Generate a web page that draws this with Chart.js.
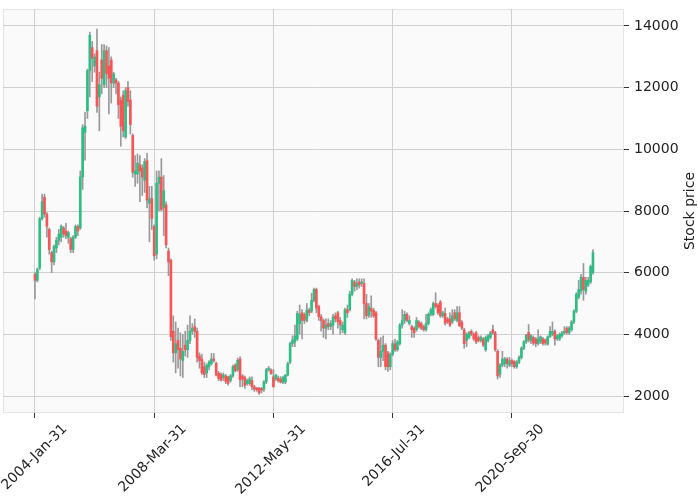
<!DOCTYPE html>
<html><head><meta charset="utf-8">
<script src="https://cdn.jsdelivr.net/npm/chart.js@4"></script>
<style>html,body{margin:0;padding:0;background:#fff}</style>
</head><body>
<canvas id="c" width="698" height="497"></canvas>
<script>
// Monthly OHLC, Jan 2004 .. Jul 2023 (index 0 = 2004-Jan)
const openP = [5950,5750,6150,7750,8450,7900,7400,6650,6350,6800,7050,7150,7450,7350,7150,7100,6750,7150,7500,7450,
9100,10550,11250,12550,13300,12700,13200,11700,12900,12100,13200,12700,12900,12150,12250,12150,11600,11750,10400,12000,
11600,10450,9200,9200,9500,9400,9000,9630,8250,8400,7500,6600,8900,9100,8100,8200,6700,6400,4100,3400,
3800,3550,3150,3650,3500,3800,4100,4250,4100,3300,3200,2950,2750,2950,3050,3200,3060,2735,2700,2600,
2650,2620,2500,2650,3000,2850,3200,2650,2600,2400,2400,2500,2300,2260,2250,2250,2220,2460,2850,2850,
2620,2550,2580,2550,2450,2450,2680,3100,3700,3750,3850,4350,4700,4650,4450,4780,4750,5100,5460,4900,
4570,4450,4200,4350,4250,4300,4600,4700,4450,4150,4050,4800,4800,5300,5700,5550,5700,5650,5650,5000,
4620,4850,4780,4700,3800,3250,3450,3650,3400,2950,3350,3700,3500,3700,4300,4450,4650,4350,4250,4200,
4150,4400,4350,4250,4150,4350,4650,4650,5000,4950,5050,4600,4680,4500,4500,4400,4700,4450,4700,4400,
4140,3800,3900,4100,4000,4050,3900,3800,3850,3500,3800,3900,4150,4050,3450,2700,3000,3050,3200,3000,
3150,3120,2950,3100,3250,3550,3760,4060,3800,3900,3850,3700,3750,3850,3820,3680,3920,4000,4100,3850,
3850,3950,4050,4200,4050,4150,4400,4750,5200,5400,5850,5400,5600,5700,6000];
const highP = [6000,6150,7800,8550,8550,7950,7450,6700,6900,7150,7400,7550,7500,7600,7350,7150,7200,7550,7550,9300,
10800,11200,12600,13800,13500,13100,13900,12500,13400,13400,13350,13300,13000,12500,12300,12200,11700,11900,12000,12200,
11900,10500,9800,9850,9800,9500,9700,9870,8800,8800,7550,9300,9300,9700,9150,8300,6800,6450,4600,4400,
4200,4050,4000,4100,4300,4600,4350,4500,4200,3400,3350,3100,3050,3150,3380,3380,3100,2800,2750,2750,
2700,2650,2700,3000,3050,3230,3280,2700,2650,2550,2620,2620,2350,2280,2280,2280,2500,2900,2960,2880,
2860,2700,2650,2630,2650,2700,3100,3750,3950,4300,4750,4950,4800,4700,5000,4850,5330,5500,5500,4950,
4650,4500,4500,4500,4450,4650,4700,4750,4550,4400,4850,4950,5400,5800,5750,5800,5800,5800,5800,5300,
5000,5250,4850,4750,3850,3900,3950,3700,3450,3400,3800,3850,3800,4350,4800,4750,4700,4600,4300,4250,
4550,4450,4400,4300,4650,4700,4850,5050,5350,5000,5100,4750,4850,4550,4700,4800,4800,4900,4900,4450,
4200,4050,4100,4150,4050,4100,3950,3950,3900,3950,4000,4100,4300,4100,3500,3050,3450,3250,3250,3250,
3200,3150,3150,3300,3600,3800,4000,4320,4000,3950,3900,4150,3950,3900,3850,3950,4250,4400,4150,4000,
4050,4100,4250,4250,4250,4450,4800,5350,5750,5950,6300,5850,5850,6250,6750];
const lowP = [5150,5700,6100,7700,7800,7150,6600,6000,6250,6650,6900,7000,7150,7100,6950,6650,6650,7100,7200,7400,
8700,9650,11000,11700,12200,12500,11200,10600,11800,12000,12000,11150,11500,12000,11800,11000,10100,10400,10350,11400,
10500,9100,8800,8900,8300,8500,8600,8100,7000,7400,6400,6450,8000,8000,7200,6800,5900,3800,3100,2750,
2900,2650,2600,3300,3250,3700,4000,3900,3100,2900,2700,2600,2600,2850,3000,3100,2650,2500,2480,2500,
2400,2350,2450,2600,2780,2800,2300,2300,2250,2350,2350,2200,2150,2150,2050,2100,2150,2400,2800,2700,
2280,2500,2450,2420,2400,2400,2650,3050,3600,3600,3800,4000,3850,4350,4400,4600,4700,5050,4700,4450,
4100,3900,3850,4150,4150,4000,4400,4200,4000,4050,4000,4550,4750,5250,5400,5450,5500,5550,4500,4500,
4550,4550,4550,3800,2950,2950,3150,2850,2800,2850,3300,3450,3450,3650,4200,4350,4400,4300,3900,3900,
4100,4200,4150,4100,4100,4300,4600,4600,4850,4650,4550,4550,4300,4350,4250,4350,4450,4400,4250,4150,
3550,3600,3850,3950,3800,3700,3750,3750,3600,3450,3750,3850,4000,3450,2550,2600,2950,2950,2900,2950,
2950,2900,2900,3050,3200,3500,3700,3750,3700,3650,3600,3650,3700,3650,3650,3650,3900,3950,3650,3800,
3800,3900,4000,4000,4000,4100,4350,4700,5150,5300,5100,5300,5550,5650,5950];
const closeP = [5750,6100,7750,8300,7900,7500,6750,6350,6850,7050,7250,7500,7250,7200,7300,6750,7150,7500,7350,9100,
10700,10750,12550,13700,12950,13000,11400,12100,12300,13200,12450,12300,12150,12450,12150,11450,10750,10600,11900,11550,
10800,9250,9300,9550,9300,9100,9600,8350,8400,7760,6550,8900,9100,8050,8650,6900,6350,3920,3400,3700,
3500,3200,3450,3500,3800,4100,4200,4100,3250,3150,2750,2700,3000,3100,3200,3150,2680,2570,2520,2680,
2470,2410,2650,2950,2820,3160,2520,2550,2350,2500,2560,2300,2220,2200,2100,2190,2460,2850,2900,2730,
2300,2680,2500,2450,2600,2680,3050,3700,3820,3950,4680,4650,4450,4450,4790,4700,5100,5450,4850,4570,
4450,4200,4300,4250,4350,4570,4500,4400,4300,4300,4800,4700,5300,5750,5550,5650,5600,5700,5000,4600,
4900,4750,4600,3850,3250,3450,3650,2950,2950,3350,3700,3500,3750,4300,4450,4650,4450,4450,4150,4050,
4450,4250,4200,4150,4350,4650,4800,5000,4900,4700,4600,4700,4360,4400,4300,4600,4500,4700,4280,4200,
3700,4000,4050,4000,3850,3750,3800,3900,3650,3900,3950,4050,4050,3500,2650,3000,3200,3200,3050,3150,
3050,2950,3100,3250,3550,3760,3980,3820,3950,3720,3700,3850,3920,3700,3720,3920,4100,4100,3850,3950,
4000,4050,4100,4050,4200,4400,4750,5300,5450,5850,5450,5750,5750,6200,6650];

const tickIndex = [0, 50, 100, 150, 200];
const tickLabels = ['2004-Jan-31', '2008-Mar-31', '2012-May-31', '2016-Jul-31', '2020-Sep-30'];
const yTicks = [2000, 4000, 6000, 8000, 10000, 12000, 14000];
const yTitle = 'Stock price';

const UP = '#2ebd85', DOWN = '#f75656', WICK = '#999999';
const idx = openP.map((_, i) => i);
const bodies = idx.map(i => ({x: i, y: [openP[i], closeP[i]]}));
const wicks = idx.map(i => ({x: i, y: [lowP[i], highP[i]]}));
const colors = idx.map(i => closeP[i] >= openP[i] ? UP : DOWN);

const FONT = {family: 'DejaVu Sans', size: 14};

const bgPlugin = {
  id: 'bg',
  beforeDraw(chart) {
    const {ctx, chartArea: a} = chart;
    ctx.save();
    ctx.fillStyle = '#fafafa';
    ctx.fillRect(a.left, a.top, a.right - a.left, a.bottom - a.top);
    ctx.strokeStyle = '#e4e4e4';
    ctx.lineWidth = 1;
    ctx.strokeRect(a.left + 0.5, a.top + 0.5, a.right - a.left - 1, a.bottom - a.top - 1);
    ctx.restore();
  },
  afterDraw(chart) {
    const {ctx, chartArea: a} = chart;
    ctx.save();
    ctx.translate(690, (a.top + a.bottom) / 2);
    ctx.rotate(-Math.PI / 2);
    ctx.font = FONT.size + 'px "' + FONT.family + '"';
    ctx.fillStyle = '#222';
    ctx.textAlign = 'center';
    ctx.textBaseline = 'middle';
    ctx.fillText(yTitle, 0, 0);
    ctx.restore();
  }
};

new Chart(document.getElementById('c'), {
  type: 'bar',
  data: {datasets: [
    {label: 'body', data: bodies, backgroundColor: colors, barThickness: 2, grouped: false, minBarLength: 1, order: 0},
    {label: 'wick', data: wicks, backgroundColor: WICK, barThickness: 1, grouped: false, order: 1}
  ]},
  options: {
    responsive: false, animation: false, devicePixelRatio: 1,
    layout: {padding: {left: 3, top: 9, right: 0, bottom: 0}},
    plugins: {legend: {display: false}, tooltip: {enabled: false}},
    scales: {
      x: {
        type: 'linear', min: -13.4, max: 247, offset: false,
        afterBuildTicks: s => { s.ticks = tickIndex.map(v => ({value: v})); },
        afterFit: s => { s.height = 84; s.paddingLeft = 0; s.paddingRight = 0; },
        grid: {offset: false, color: '#d0d0d0', lineWidth: 1, tickLength: 5, tickColor: '#333', drawOnChartArea: true},
        border: {display: false},
        ticks: {autoSkip: false, maxRotation: 45, minRotation: 45, labelOffset: 30, padding: 3,
          callback: v => tickLabels[tickIndex.indexOf(v)], font: FONT, color: '#222'}
      },
      y: {
        position: 'right', min: 1449, max: 14551,
        afterBuildTicks: s => { s.ticks = yTicks.map(v => ({value: v})); },
        afterFit: s => { s.width = 74; s.paddingTop = 0; s.paddingBottom = 0; },
        grid: {color: '#d0d0d0', lineWidth: 1, tickLength: 5, tickColor: '#333', drawOnChartArea: true},
        border: {display: false},
        ticks: {padding: 5, font: FONT, color: '#222', callback: v => String(v)}
      }
    }
  },
  plugins: [bgPlugin]
});
</script>
</body></html>
